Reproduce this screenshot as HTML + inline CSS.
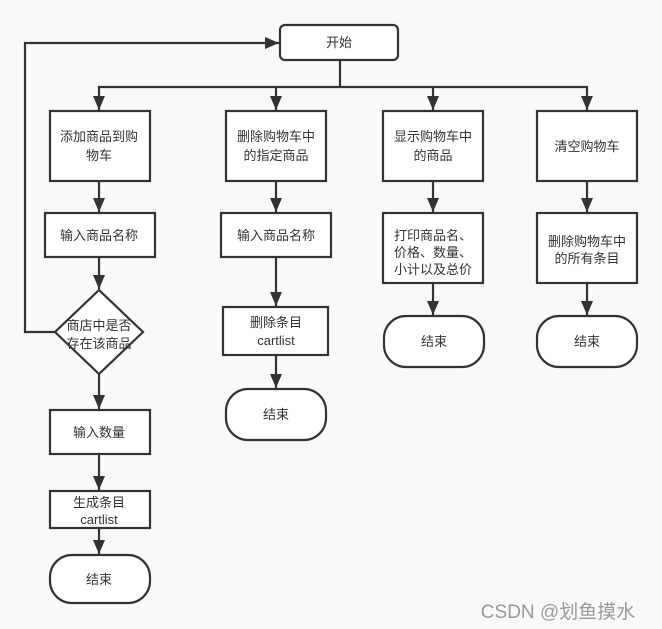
<!DOCTYPE html>
<html><head><meta charset="utf-8"><style>
html,body{margin:0;padding:0;background:#f9f9f9;}
svg{display:block;}
text{font-family:"Liberation Sans","Noto Sans CJK SC",sans-serif;font-size:13px;fill:#333;text-anchor:middle;}
</style></head><body>
<svg width="662" height="629" viewBox="0 0 662 629" xmlns="http://www.w3.org/2000/svg">
<defs><marker id="a" markerWidth="14" markerHeight="12" refX="14" refY="6" orient="auto" markerUnits="userSpaceOnUse"><path d="M0,0 L14,6 L0,12 Z" fill="#333"/></marker></defs>
<rect width="662" height="629" fill="#f9f9f9"/>
<g fill="none" stroke="#333" stroke-width="2.2">
<path d="M55,332 H25 V43 H279" marker-end="url(#a)"/>
<path d="M340,60 V87 H99 V110" marker-end="url(#a)"/>
<path d="M276,87 V110" marker-end="url(#a)"/>
<path d="M340,87 H587 V110" marker-end="url(#a)"/>
<path d="M433,87 V110" marker-end="url(#a)"/>
<path d="M99,181 V212" marker-end="url(#a)"/>
<path d="M99,257 V289" marker-end="url(#a)"/>
<path d="M99,374 V409" marker-end="url(#a)"/>
<path d="M99,454 V490" marker-end="url(#a)"/>
<path d="M99,528 V554" marker-end="url(#a)"/>
<path d="M276,181 V212" marker-end="url(#a)"/>
<path d="M276,257 V306" marker-end="url(#a)"/>
<path d="M276,355 V388" marker-end="url(#a)"/>
<path d="M433,181 V212" marker-end="url(#a)"/>
<path d="M433,283 V315" marker-end="url(#a)"/>
<path d="M587,181 V212" marker-end="url(#a)"/>
<path d="M587,283 V315" marker-end="url(#a)"/>
</g>
<g fill="#fff" stroke="#333" stroke-width="2.2">
<rect x="280" y="25" width="118" height="35" rx="5"/>
<rect x="50" y="111" width="100" height="70"/>
<rect x="45" y="213" width="110" height="44"/>
<path d="M99,290 L143,332 L99,374 L55,332 Z"/>
<rect x="50" y="410" width="100" height="44"/>
<rect x="50" y="491" width="100" height="37"/>
<rect x="50" y="555" width="100" height="48" rx="22"/>
<rect x="226" y="111" width="100" height="70"/>
<rect x="221" y="213" width="110" height="44"/>
<rect x="223" y="307" width="105" height="48"/>
<rect x="226" y="389" width="100" height="51" rx="22"/>
<rect x="383" y="111" width="100" height="70"/>
<rect x="383" y="213" width="100" height="70"/>
<rect x="384" y="316" width="100" height="51" rx="22"/>
<rect x="537" y="111" width="100" height="70"/>
<rect x="537" y="213" width="100" height="70"/>
<rect x="537" y="316" width="100" height="51" rx="22"/>
</g>
<text x="339" y="47">开始</text>
<text x="99" y="141">添加商品到购</text><text x="99" y="160">物车</text>
<text x="99" y="240">输入商品名称</text>
<text x="99" y="330">商店中是否</text><text x="99" y="348">存在该商品</text>
<text x="99" y="437">输入数量</text>
<text x="99" y="507">生成条目</text><text x="99" y="524">cartlist</text>
<text x="99" y="584">结束</text>
<text x="276" y="141">删除购物车中</text><text x="276" y="160">的指定商品</text>
<text x="276" y="240">输入商品名称</text>
<text x="276" y="327">删除条目</text><text x="276" y="345">cartlist</text>
<text x="276" y="419">结束</text>
<text x="433" y="141">显示购物车中</text><text x="433" y="160">的商品</text>
<text x="433" y="240">打印商品名、</text><text x="433" y="257">价格、数量、</text><text x="433" y="274">小计以及总价</text>
<text x="434" y="346">结束</text>
<text x="587" y="151">清空购物车</text>
<text x="587" y="246">删除购物车中</text><text x="587" y="263">的所有条目</text>
<text x="587" y="346">结束</text>
<text x="558" y="618" style="font-size:19px;fill:#999;">CSDN @划鱼摸水</text>
</svg>
</body></html>
